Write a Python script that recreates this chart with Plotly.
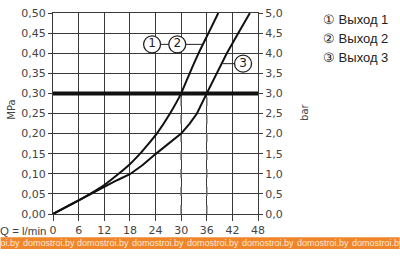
import plotly.graph_objects as go

# ---- data ----
q_12 = [0, 3, 6, 9, 12, 15, 18, 20.4, 22, 24.3, 27.4, 30, 32, 34.1, 36.4, 38.7]
p_12 = [0, 0.017, 0.034, 0.052, 0.072, 0.097, 0.124, 0.15, 0.17, 0.20, 0.25, 0.30, 0.35, 0.40, 0.45, 0.50]
q_3 = [0, 3, 6, 9, 12, 15, 18, 21, 24, 27, 30, 32, 33.7, 36, 38.4, 40.7, 43.4, 46.1]
p_3 = [0, 0.017, 0.034, 0.051, 0.069, 0.084, 0.099, 0.122, 0.149, 0.174, 0.20, 0.225, 0.25, 0.30, 0.35, 0.40, 0.45, 0.50]
threshold = 0.30
q_at_threshold = [30, 36]
x_ticks = [0, 6, 12, 18, 24, 30, 36, 42, 48]
mpa_ticks = [0, 0.05, 0.10, 0.15, 0.20, 0.25, 0.30, 0.35, 0.40, 0.45, 0.50]
bar_ticks = [0, 0.5, 1.0, 1.5, 2.0, 2.5, 3.0, 3.5, 4.0, 4.5, 5.0]
labels = ["1", "2", "3"]
label_q = [23.2, 29.1, 44.5]
label_p = [0.422, 0.422, 0.374]
legend_items = ["① Выход 1", "② Выход 2", "③ Выход 3"]

W, H = 400, 258
L, R, T, B = 52.5, 258, 7, 214


def px(xp):
    return (xp - L) / (R - L)


def py(yp):
    return (B - yp) / (B - T)


fig = go.Figure()
FONT = "DejaVu Sans"
TC = "#444444"
GC = "#3a3a3a"

# dashed verticals
for qv in q_at_threshold:
    fig.add_trace(go.Scatter(x=[qv, qv], y=[0, threshold], mode="lines",
                             line=dict(color="#666666", width=1.5, dash="dash"),
                             showlegend=False, hoverinfo="skip"))
# threshold line
fig.add_trace(go.Scatter(x=[0, 48], y=[threshold, threshold], mode="lines",
                         line=dict(color="#111111", width=4), showlegend=False,
                         hoverinfo="skip"))
# curves
fig.add_trace(go.Scatter(x=q_12, y=p_12, mode="lines",
                         line=dict(color="#111111", width=2, shape="spline", smoothing=0.6),
                         showlegend=False))
fig.add_trace(go.Scatter(x=q_3, y=p_3, mode="lines",
                         line=dict(color="#111111", width=2),
                         showlegend=False))
# leader lines
fig.add_trace(go.Scatter(x=[label_q[0], label_q[1]], y=[label_p[0], label_p[1]], mode="lines",
                         line=dict(color="#222222", width=1), showlegend=False, hoverinfo="skip"))
fig.add_trace(go.Scatter(x=[label_q[1], 35.3], y=[label_p[1], label_p[1]], mode="lines",
                         line=dict(color="#222222", width=1), showlegend=False, hoverinfo="skip"))
fig.add_trace(go.Scatter(x=[39.8, label_q[2]], y=[label_p[2], label_p[2]], mode="lines",
                         line=dict(color="#222222", width=1), showlegend=False, hoverinfo="skip"))
# circled labels
fig.add_trace(go.Scatter(x=label_q, y=label_p, mode="markers+text", text=labels,
                         textposition="middle center",
                         textfont=dict(family=FONT, size=12, color="#222222"),
                         marker=dict(size=17, color="white", line=dict(color="#222222", width=1.3)),
                         showlegend=False, cliponaxis=False))
# invisible trace for right axis
fig.add_trace(go.Scatter(x=[0, 48], y=[0, 5], yaxis="y2", mode="lines",
                         line=dict(width=0), opacity=0, showlegend=False, hoverinfo="skip"))

axis_common = dict(showgrid=True, gridcolor=GC, gridwidth=1, zeroline=False,
                   showline=True, linecolor=GC, linewidth=1,
                   ticks="outside", ticklen=4, tickcolor=GC,
                   tickfont=dict(family=FONT, size=11, color=TC))

fig.update_layout(
    width=W, height=H,
    margin=dict(l=L, r=W - R, t=T, b=H - B),
    paper_bgcolor="white", plot_bgcolor="white",
    separators=", ",
    xaxis=dict(range=[0, 48], tickvals=x_ticks, ticktext=[str(v) for v in x_ticks],
               mirror=True, **axis_common),
    yaxis=dict(range=[0, 0.5], tickvals=mpa_ticks, tickformat=".2f",
               mirror=True, **axis_common),
    yaxis2=dict(range=[0, 5], tickvals=bar_ticks, tickformat=".1f", overlaying="y",
                side="right", showgrid=False, zeroline=False, showline=True,
                linecolor=GC, ticks="outside", ticklen=4, tickcolor=GC,
                tickfont=dict(family=FONT, size=11, color=TC)),
)
fig.update_xaxes(ticklen=6)

ann = []
ann.append(dict(x=px(11), y=py(107), xref="paper", yref="paper", text="MPa", textangle=-90,
                xanchor="center", yanchor="middle",
                showarrow=False, font=dict(family=FONT, size=10, color=TC)))
ann.append(dict(x=px(304), y=py(109), xref="paper", yref="paper", text="bar", textangle=-90,
                xanchor="center", yanchor="middle",
                showarrow=False, font=dict(family=FONT, size=10, color=TC)))
ann.append(dict(x=px(47), y=py(232), xref="paper", yref="paper", text="Q = l/min",
                xanchor="right", yanchor="middle", showarrow=False,
                font=dict(family="Liberation Sans", size=11.5, color=TC)))
for i, t in enumerate(legend_items):
    ann.append(dict(x=px(321), y=py(14 + 19.5 * i), xref="paper", yref="paper", text=t,
                    xanchor="left", yanchor="middle", showarrow=False,
                    font=dict(family="Liberation Sans", size=13, color="#222222")))
# watermark band
fig.add_shape(type="rect", xref="paper", yref="paper", x0=px(0), x1=px(400),
              y0=py(250), y1=py(238), fillcolor="#F0862C", line=dict(width=0), layer="above")
for i in range(8):
    xs = -35 + 55 * i
    ann.append(dict(x=px(xs), y=py(244), xref="paper", yref="paper", text="domostroi.by",
                    xanchor="left", yanchor="middle", showarrow=False,
                    font=dict(family="Liberation Sans", size=9, color="#FCE6D2")))
fig.update_layout(annotations=ann)

fig.write_html("out.html")
